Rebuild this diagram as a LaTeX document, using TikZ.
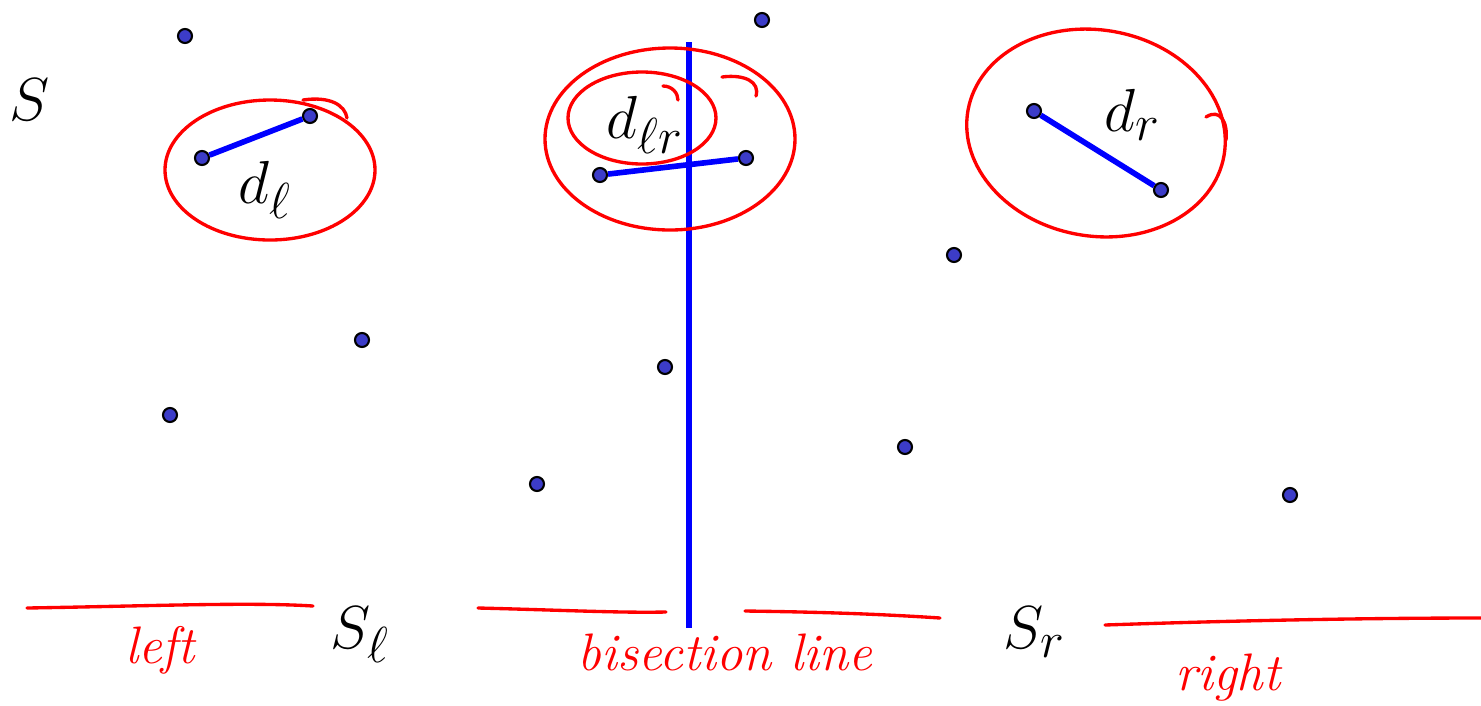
\documentclass[tikz,border=0pt]{standalone}
\usepackage{amsmath,amssymb}
\usepackage{tikz}
\usetikzlibrary{positioning,calc}
\usepackage{xcolor}
\definecolor{dotblue}{RGB}{60,60,200}

\begin{document}
\begin{tikzpicture}[x=0.01cm,y=-0.01cm,
  pt/.style={circle,draw,fill=dotblue,minimum size=0.14cm,inner sep=0pt,line width=0.6pt},
  ed/.style={blue,line width=1.6pt},
  pen/.style={red,line width=0.95pt,line cap=round,line join=round},
  lab/.style={font=\fontsize{19}{22}\selectfont},
  hand/.style={red,font=\fontsize{15}{18}\selectfont\itshape}]
  \useasboundingbox (0,0) rectangle (1481,705);
  % bisection line
  \coordinate (bt) at (689,42);
  \coordinate (bb) at (689,628);
  \draw[blue,line width=1.6pt] (bt)--(bb);
  % points
  \node[pt] (p1) at (185,36) {};
  \node[pt] (p2) at (202,158) {};
  \node[pt] (p3) at (310,116) {};
  \node[pt] (p4) at (362,340) {};
  \node[pt] (p5) at (170,415) {};
  \node[pt] (p6) at (600,175) {};
  \node[pt] (p7) at (746,158) {};
  \node[pt] (p8) at (762,20) {};
  \node[pt] (p9) at (665,367) {};
  \node[pt] (p10) at (537,484) {};
  \node[pt] (p11) at (954,255) {};
  \node[pt] (p12) at (1034,111) {};
  \node[pt] (p13) at (1161,190) {};
  \node[pt] (p14) at (905,447) {};
  \node[pt] (p15) at (1290,495) {};
  \draw[ed] (p2)--(p3);
  \draw[ed] (p6)--(p7);
  \draw[ed] (p12)--(p13);
  % red rings
  \draw[pen] (270,170) ellipse [x radius=105,y radius=70];
  \draw[pen] (303,100) .. controls (330,96) and (345,105) .. (347,118);
  \draw[pen] (670,139) ellipse [x radius=125,y radius=91];
  \draw[pen] (722,77) .. controls (745,74) and (760,82) .. (756,96);
  \draw[pen] (642,118) ellipse [x radius=74,y radius=46];
  \draw[pen] (663,86) .. controls (672,86) and (678,93) .. (678,100);
  \draw[pen,rotate around={-10:(1096,133)}] (1096,133) ellipse [x radius=130,y radius=103];
  \draw[pen] (1206,117) .. controls (1220,108) and (1228,122) .. (1226,140);
  % labels
  \node[lab] (s) at (30,100) {$S$};
  \node[lab] (dl) at (265,190) {$d_\ell$};
  \node[lab] (dlr) at (645,125) {$d_{\ell r}$};
  \node[lab] (dr) at (1133,115) {$d_r$};
  \node[lab] (sl) at (360,635) {$S_\ell$};
  \node[lab] (sr) at (1035,632) {$S_r$};
  % underlines
  \draw[pen] (27,608) .. controls (150,606) and (250,602) .. (313,606);
  \draw[pen] (478,608) .. controls (560,610) and (620,613) .. (666,612);
  \draw[pen] (745,611) .. controls (820,612) and (880,614) .. (940,618);
  \draw[pen] (1105,625) .. controls (1250,620) and (1380,618) .. (1481,618);
  \node[hand] (tl) at (160,650) {left};
  \node[hand] (tb) at (725,652) {bisection line};
  \node[hand] (tr) at (1228,678) {right};
\end{tikzpicture}
\end{document}
